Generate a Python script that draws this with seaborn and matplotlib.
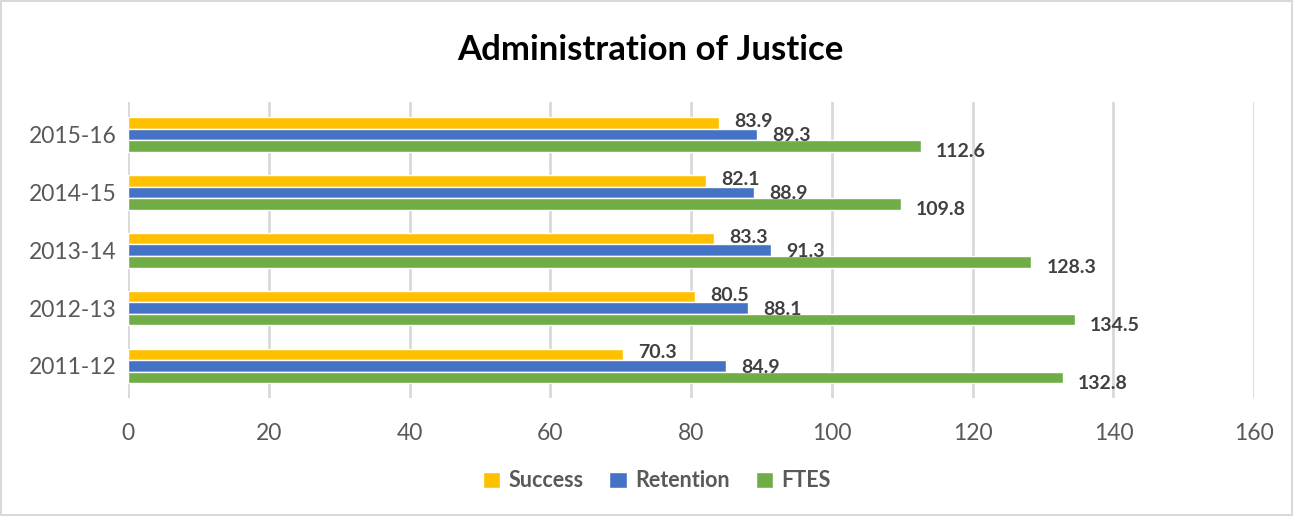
import pandas as pd
import matplotlib
matplotlib.use("Agg")
import matplotlib.pyplot as plt
import seaborn as sns

# Chart values
years = ["2015-16", "2014-15", "2013-14", "2012-13", "2011-12"]
success = [83.9, 82.1, 83.3, 80.5, 70.3]
retention = [89.3, 88.9, 91.3, 88.1, 84.9]
ftes = [112.6, 109.8, 128.3, 134.5, 132.8]
series = ["Success", "Retention", "FTES"]
colors = ["#FFC000", "#4472C4", "#70AD47"]
xticks = [0, 20, 40, 60, 80, 100, 120, 140, 160]

df = pd.DataFrame({"Year": years, "Success": success, "Retention": retention, "FTES": ftes})
long_df = df.melt(id_vars="Year", var_name="Measure", value_name="Value")

sns.set_style("white")
plt.rcParams["font.family"] = ["Lato", "DejaVu Sans"]

fig = plt.figure(figsize=(12.93, 5.16), dpi=100)
fig.patch.set_edgecolor("#d9d9d9")
fig.patch.set_linewidth(1.5)
ax = fig.add_axes([0.099, 0.228, 0.871, 0.574])

sns.barplot(data=long_df, y="Year", x="Value", hue="Measure", order=years,
            hue_order=series, palette=colors, orient="h", width=0.6,
            saturation=1, ax=ax, legend=True)

# data labels, offset right of bar ends like the Excel original
yoff = {"Success": 1, "Retention": -1, "FTES": -4}
for container, name in zip(ax.containers, series):
    for bar in container:
        w = bar.get_width()
        yc = bar.get_y() + bar.get_height() / 2
        ax.annotate(f"{w:.1f}", (w, yc), xytext=(11, yoff[name]), textcoords="offset points",
                    ha="left", va="center", fontsize=14, fontweight="bold", color="#404040")

ax.set_xlim(0, 160)
ax.set_ylim(4.56, -0.56)
ax.set_xticks(xticks)
ax.xaxis.grid(True, color="#d9d9d9", linewidth=2)
ax.set_axisbelow(True)
for s in ax.spines.values():
    s.set_visible(False)
ax.tick_params(axis="x", length=0, pad=18, labelsize=16.5, labelcolor="#595959")
ax.tick_params(axis="y", length=0, pad=8, labelsize=16.5, labelcolor="#595959")
ax.set_xlabel("")
ax.set_ylabel("")

fig.suptitle("Administration of Justice", x=0.503, y=0.903, va="center",
             fontsize=25, fontweight="bold", color="black")

ax.legend_.remove()
handles, labels = ax.get_legend_handles_labels()
leg = fig.legend(handles[:3], labels[:3], loc="center", bbox_to_anchor=(0.508, 0.068), ncol=3,
                 frameon=False, handlelength=0.8, handleheight=0.8, handletextpad=0.4,
                 columnspacing=1.2, prop={"size": 15.5, "weight": "bold"})
for t in leg.get_texts():
    t.set_color("#595959")

fig.savefig("out.png", dpi=100)
